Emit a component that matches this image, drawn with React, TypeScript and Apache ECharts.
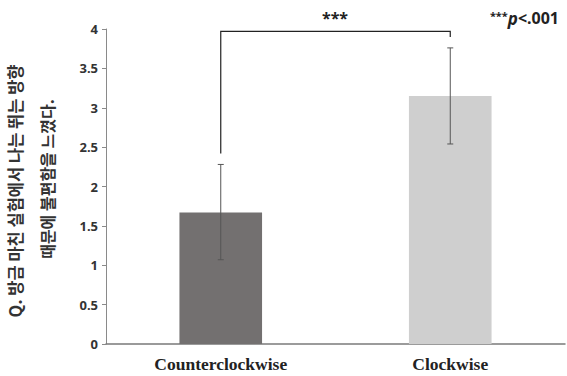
import React, { useEffect, useRef } from "react";
import * as echarts from "echarts";

const categories = ["Counterclockwise", "Clockwise"];
const means = [1.67, 3.15];
const errLow = [1.07, 2.54];
const errHigh = [2.28, 3.76];
const yTicks = { min: 0, max: 4, interval: 0.5 };
const bracket = { top: 3.97, leftEnd: 2.42, rightEnd: 3.9 };
const barColors = ["#737070", "#cfcfcf"];

export default function App() {
  const ref = useRef<HTMLDivElement>(null);
  useEffect(() => {
    if (!ref.current) return;
    const chart = echarts.init(ref.current, undefined, { renderer: "svg" });
    chart.setOption({
      animation: false,
      backgroundColor: "#ffffff",
      grid: { left: 106, right: 2, top: 29, bottom: 32 },
      xAxis: {
        type: "category",
        data: categories,
        axisLine: { lineStyle: { color: "#7a7a7a", width: 1.5 } },
        axisTick: { show: false },
        axisLabel: {
          fontFamily: "Liberation Serif",
          fontWeight: "bold",
          fontSize: 17.5,
          color: "#222",
          margin: 11,
        },
      },
      yAxis: {
        type: "value",
        min: yTicks.min,
        max: yTicks.max,
        interval: yTicks.interval,
        splitLine: { show: false },
        axisLine: { show: true, lineStyle: { color: "#8a8a8a", width: 1 } },
        axisTick: { show: true, length: 4, lineStyle: { color: "#8a8a8a" } },
        axisLabel: {
          fontFamily: "Noto Sans",
          fontWeight: "bold",
          fontSize: 13,
          color: "#333",
          margin: 8,
        },
      },
      series: [
        {
          type: "bar",
          data: means.map((v, i) => ({ value: v, itemStyle: { color: barColors[i] } })),
          barWidth: "36%",
        },
        {
          type: "custom",
          data: means.map((_, i) => [i, errLow[i], errHigh[i]]),
          renderItem: (params: any, api: any) => {
            const x = api.value(0);
            const lo = api.coord([x, api.value(1)]);
            const hi = api.coord([x, api.value(2)]);
            const w = 3;
            const style = { stroke: "#555", lineWidth: 1, fill: "none" };
            return {
              type: "group",
              children: [
                { type: "line", shape: { x1: lo[0], y1: lo[1], x2: hi[0], y2: hi[1] }, style },
                { type: "line", shape: { x1: lo[0] - w, y1: lo[1], x2: lo[0] + w, y2: lo[1] }, style },
                { type: "line", shape: { x1: hi[0] - w, y1: hi[1], x2: hi[0] + w, y2: hi[1] }, style },
              ],
            };
          },
          z: 5,
        },
        {
          type: "custom",
          data: [[0, 1, bracket.top, bracket.leftEnd, bracket.rightEnd]],
          renderItem: (params: any, api: any) => {
            const a = api.coord([api.value(0), api.value(2)]);
            const b = api.coord([api.value(1), api.value(2)]);
            const aEnd = api.coord([api.value(0), api.value(3)]);
            const bEnd = api.coord([api.value(1), api.value(4)]);
            return {
              type: "polyline",
              shape: { points: [[aEnd[0], aEnd[1]], a, b, [bEnd[0], bEnd[1]]] },
              style: { stroke: "#222", lineWidth: 1.2, fill: "none" },
            };
          },
          z: 6,
        },
      ],
      graphic: [
        {
          type: "text",
          x: 335,
          y: 18,
          style: {
            text: "***",
            fontFamily: "Noto Sans",
            fontWeight: "bold",
            fontSize: 16,
            fill: "#222",
            align: "center",
            verticalAlign: "middle",
          },
        },
        {
          type: "text",
          x: 559,
          y: 18,
          style: {
            text: "{s|***}{p|p}{n|<.001}",
            align: "right",
            verticalAlign: "middle",
            rich: {
              s: { fontFamily: "Noto Sans", fontWeight: "bold", fontSize: 11, fill: "#222", verticalAlign: "top", padding: [0, 0, 6, 0] },
              p: { fontFamily: "Noto Sans", fontWeight: "bold", fontStyle: "italic", fontSize: 17, fill: "#222" },
              n: { fontFamily: "Noto Sans", fontWeight: "bold", fontSize: 16, fill: "#222" },
            },
          },
        },
        {
          type: "text",
          x: 15,
          y: 191,
          rotation: Math.PI / 2,
          style: {
            text: "Q. 방금 마친 실험에서 나는 뛰는 방향",
            fontFamily: "Noto Sans CJK KR",
            fontWeight: "bold",
            fontSize: 16.5,
            fill: "#333",
            align: "center",
            verticalAlign: "middle",
          },
        },
        {
          type: "text",
          x: 47,
          y: 179,
          rotation: Math.PI / 2,
          style: {
            text: "때문에 불편함을 느꼈다.",
            fontFamily: "Noto Sans CJK KR",
            fontWeight: "bold",
            fontSize: 16,
            fill: "#333",
            align: "center",
            verticalAlign: "middle",
          },
        },
      ],
    });
    return () => chart.dispose();
  }, []);
  return <div ref={ref} style={{ width: 567, height: 376, position: "absolute", left: 0, top: 0 }} />;
}
